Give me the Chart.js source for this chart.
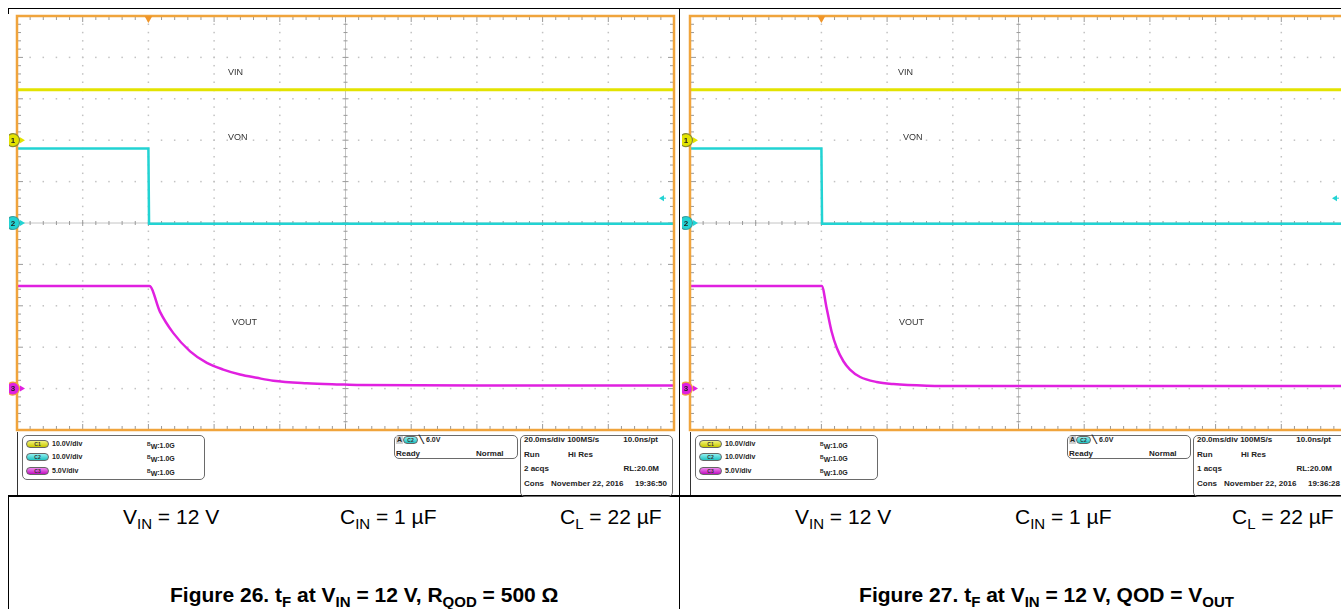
<!DOCTYPE html>
<html>
<head>
<meta charset="utf-8">
<script src="https://cdn.jsdelivr.net/npm/chart.js@4.4.1/dist/chart.umd.min.js"></script>
<style>
    html, body { margin: 0; padding: 0; background: #fff; }
    body { width: 1341px; height: 609px; overflow: hidden; position: relative;
           font-family: "Liberation Sans", Arial, sans-serif; color: #000; }
    .line { position: absolute; background: #000; }
    .shot { position: absolute; background: #fff; overflow: hidden; }
    .trace-label { position: absolute; font-size: 9px; color: #333; line-height: 9px; }
    .box { position: absolute; border: 1px solid #6a6a6a; border-radius: 5px; box-sizing: border-box; }
    .st { position: absolute; font-weight: bold; color: #222; white-space: nowrap; line-height: 8px; }
    .pill { position: absolute; height: 8px; border-radius: 4px; border: 1px solid #666; box-sizing: border-box;
            font-size: 5px; font-weight: bold; line-height: 6px; text-align: center; color: #333; }
    .cap { position: absolute; font-size: 21px; line-height: 21px; white-space: nowrap; }
    .cap sub { font-size: 15px; vertical-align: -5px; line-height: 0; }
    .fig { font-weight: bold; }
</style>
</head>
<body>
<script>
////////////////////////////////////////////////////////////////////////////////////////////
// DATA (time in ms from trigger, values in volts)
////////////////////////////////////////////////////////////////////////////////////////////

const timeRange = [-40, 160];            // 20 ms/div, trigger 2 div from left
const channelVoltsPerDiv = [10, 10, 5];  // C1, C2, C3
const channelOffsetDiv = [2, 0, -4];     // ground marker position, divisions
const triggerLevel = 6.0;                // C2 falling edge

const vinTime = [-40, 160];
const vinVolts26 = [12.2, 12.2];
const vinVolts27 = [12.2, 12.2];

const vonTime = [-40, 0, 0.2, 160];
const vonVolts = [18.0, 18.0, -0.2, -0.2];

const voutTime26 = [-40, 0.3, 3.5, 7.6, 12.7, 17.8, 22.8, 27.9, 33.0, 38.0, 48.2, 58.3, 64.4, 100, 160];
const voutVolts26 = [12.4, 12.4, 9.3, 6.7, 4.5, 3.1, 2.3, 1.7, 1.3, 0.95, 0.65, 0.5, 0.43, 0.37, 0.37];

const voutTime27 = [-40, 0.1, 1.6, 3.1, 4.7, 6.7, 8.7, 11.8, 16.8, 21.9, 32.1, 45.2, 100, 160];
const voutVolts27 = [12.4, 12.4, 9.7, 6.9, 4.9, 3.3, 2.3, 1.4, 0.8, 0.55, 0.35, 0.3, 0.3, 0.3];

const traceColors = ['#e3e300', '#22d3d3', '#e020e0'];

////////////////////////////////////////////////////////////////////////////////////////////
// Page frame (table lines + captions)
////////////////////////////////////////////////////////////////////////////////////////////

function el(cls, style, html) {
    const d = document.createElement('div');
    d.className = cls;
    Object.assign(d.style, style);
    if (html !== undefined) d.innerHTML = html;
    document.body.appendChild(d);
    return d;
}

el('line', {left: '8px', top: '8px', width: '1333px', height: '1px'});
el('line', {left: '8px', top: '8px', width: '1px', height: '601px'});
el('line', {left: '679px', top: '8px', width: '1px', height: '601px'});
el('line', {left: '8px', top: '495px', width: '1333px', height: '2px'});

el('cap', {left: '123px', top: '506px'}, 'V<sub>IN</sub> = 12 V');
el('cap', {left: '340px', top: '506px'}, 'C<sub>IN</sub> = 1 µF');
el('cap', {left: '560px', top: '506px'}, 'C<sub>L</sub> = 22 µF');
el('cap fig', {left: '170px', top: '584px'}, 'Figure 26. t<sub>F</sub> at V<sub>IN</sub> = 12 V, R<sub>QOD</sub> = 500 Ω');

el('cap', {left: '795px', top: '506px'}, 'V<sub>IN</sub> = 12 V');
el('cap', {left: '1015px', top: '506px'}, 'C<sub>IN</sub> = 1 µF');
el('cap', {left: '1232px', top: '506px'}, 'C<sub>L</sub> = 22 µF');
el('cap fig', {right: '107px', top: '584px'}, 'Figure 27. t<sub>F</sub> at V<sub>IN</sub> = 12 V, QOD = V<sub>OUT</sub>');

////////////////////////////////////////////////////////////////////////////////////////////
// Scope graticule plugin
////////////////////////////////////////////////////////////////////////////////////////////

const graticule = {
    id: 'graticule',
    beforeDatasetsDraw(chart) {
        const {ctx, chartArea: a, scales} = chart;
        const xs = scales.x, ds = scales.div;
        const xStep = (timeRange[1] - timeRange[0]) / 10;
        ctx.save();

        // dotted division lines
        ctx.fillStyle = '#c2c2c2';
        for (let i = 1; i < 10; i++) {
            if (i === 5) continue;
            const px = xs.getPixelForValue(timeRange[0] + i * xStep);
            for (let j = 1; j < 50; j++) {
                const py = ds.getPixelForValue(-5 + j * 0.2);
                ctx.fillRect(px - 0.75, py - 0.75, 1.5, 1.5);
            }
            const py = ds.getPixelForValue(-5 + i);
            for (let j = 1; j < 50; j++) {
                const qx = xs.getPixelForValue(timeRange[0] + j * xStep / 5);
                ctx.fillRect(qx - 0.75, py - 0.75, 1.5, 1.5);
            }
        }

        // centre cross with minor ticks
        const cx = xs.getPixelForValue(timeRange[0] + 5 * xStep);
        const cy = ds.getPixelForValue(0);
        ctx.strokeStyle = '#c4c4c4';
        ctx.lineWidth = 1;
        ctx.beginPath();
        ctx.moveTo(cx, a.top); ctx.lineTo(cx, a.bottom);
        ctx.moveTo(a.left, cy); ctx.lineTo(a.right, cy);
        ctx.stroke();

        ctx.strokeStyle = '#9a9a9a';
        ctx.beginPath();
        for (let j = 1; j < 50; j++) {
            const py = ds.getPixelForValue(-5 + j * 0.2);
            const len = (j % 5 === 0) ? 6 : 4;
            ctx.moveTo(cx - len / 2, py); ctx.lineTo(cx + len / 2, py);
            ctx.moveTo(a.left, py); ctx.lineTo(a.left + len, py);
            ctx.moveTo(a.right, py); ctx.lineTo(a.right - len, py);
            const qx = xs.getPixelForValue(timeRange[0] + j * xStep / 5);
            ctx.moveTo(qx, cy - len / 2); ctx.lineTo(qx, cy + len / 2);
            ctx.moveTo(qx, a.top); ctx.lineTo(qx, a.top + len);
            ctx.moveTo(qx, a.bottom); ctx.lineTo(qx, a.bottom - len);
        }
        ctx.stroke();
        ctx.restore();
    },
    afterDatasetsDraw(chart) {
        const {ctx, chartArea: a, scales} = chart;
        ctx.save();

        // orange frame
        ctx.strokeStyle = '#f0a43c';
        ctx.lineWidth = 2.5;
        ctx.strokeRect(a.left, a.top, a.right - a.left, a.bottom - a.top);

        // trigger position marker
        const tx = scales.x.getPixelForValue(0);
        ctx.fillStyle = '#f0962a';
        ctx.beginPath();
        ctx.moveTo(tx - 4, a.top); ctx.lineTo(tx + 4, a.top); ctx.lineTo(tx, a.top + 7);
        ctx.closePath(); ctx.fill();

        // trigger level arrow (C2)
        const ly = scales.ch2.getPixelForValue(triggerLevel);
        ctx.fillStyle = traceColors[1];
        ctx.beginPath();
        ctx.moveTo(a.right - 15, ly); ctx.lineTo(a.right - 10, ly - 3); ctx.lineTo(a.right - 10, ly + 3);
        ctx.closePath(); ctx.fill();
        ctx.fillRect(a.right - 11, ly - 0.5, 3, 1);

        // channel ground markers
        const rings = ['#8a8a30', '#3aa0a0', '#f0a43c'];
        ['ch1', 'ch2', 'ch3'].forEach((id, k) => {
            const my = scales[id].getPixelForValue(0);
            const mx = a.left - 4;
            ctx.fillStyle = traceColors[k];
            ctx.strokeStyle = rings[k];
            ctx.lineWidth = 1.2;
            ctx.beginPath();
            ctx.arc(mx, my, 6.5, 0, Math.PI * 2);
            ctx.fill(); ctx.stroke();
            ctx.fillStyle = '#222';
            ctx.font = 'bold 8px "Liberation Sans", Arial';
            ctx.textAlign = 'center';
            ctx.textBaseline = 'middle';
            ctx.fillText(String(k + 1), mx, my + 0.5);
            ctx.fillStyle = traceColors[k];
            ctx.beginPath();
            ctx.moveTo(a.left + 3, my - 3); ctx.lineTo(a.left + 8, my); ctx.lineTo(a.left + 3, my + 3);
            ctx.closePath(); ctx.fill();
        });
        ctx.restore();
    }
};

////////////////////////////////////////////////////////////////////////////////////////////
// Scope panels
////////////////////////////////////////////////////////////////////////////////////////////

function points(t, v) {
    return t.map((x, i) => ({x: x, y: v[i]}));
}

function channelScale(k) {
    const vd = channelVoltsPerDiv[k], off = channelOffsetDiv[k];
    return {type: 'linear', axis: 'y', display: false, min: (-5 - off) * vd, max: (5 - off) * vd};
}

/**
 * Function: makeScope
 * Purpose:
 *      Build one screenshot panel: chart canvas, trace labels and status bar
 * @param: dx - horizontal offset of the panel, vin/vout series, acquisition info
 */
function makeScope(dx, vinVolts, voutTime, voutVolts, acqs, clock) {
    const shot = el('shot', {left: (8 + dx) + 'px', top: '14px', width: (670) + 'px', height: '481px'});

    const canvas = document.createElement('canvas');
    canvas.width = 669; canvas.height = 423;
    canvas.style.position = 'absolute';
    canvas.style.left = '1px'; canvas.style.top = '-5px';
    shot.appendChild(canvas);

    new Chart(canvas.getContext('2d'), {
        type: 'line',
        data: {
            datasets: [
                {data: points(vinTime, vinVolts), yAxisID: 'ch1', borderColor: traceColors[0], borderWidth: 3},
                {data: points(vonTime, vonVolts), yAxisID: 'ch2', borderColor: traceColors[1], borderWidth: 2.5},
                {data: points(voutTime, voutVolts), yAxisID: 'ch3', borderColor: traceColors[2], borderWidth: 2.5,
                 cubicInterpolationMode: 'monotone'}
            ]
        },
        options: {
            responsive: false,
            animation: false,
            events: [],
            layout: {padding: {left: 8, top: 7, right: 4, bottom: 2}},
            elements: {point: {radius: 0}, line: {tension: 0}},
            plugins: {legend: {display: false}, tooltip: {enabled: false}},
            scales: {
                x: {type: 'linear', axis: 'x', display: false, min: timeRange[0], max: timeRange[1]},
                ch1: channelScale(0),
                ch2: channelScale(1),
                ch3: channelScale(2),
                div: {type: 'linear', axis: 'y', display: false, min: -5, max: 5}
            }
        },
        plugins: [graticule]
    });

    // trace labels (page coords)
    const lbl = (x, y, t) => el('trace-label', {left: (x + dx) + 'px', top: (y - 4.5) + 'px'}, t);
    if (dx === 0) {
        lbl(228, 72, 'VIN'); lbl(228, 137, 'VON'); lbl(232, 322, 'VOUT');
    } else {
        lbl(898 - dx, 72, 'VIN'); lbl(903 - dx, 137, 'VON'); lbl(899 - dx, 322, 'VOUT');
    }

    // status bar divider
    el('line', {left: (17 + dx) + 'px', top: '432px', width: '1px', height: '63px', background: '#333'});

    // channel box
    el('box', {left: (22 + dx) + 'px', top: '435px', width: '183px', height: '45px'});
    const rows = [443.5, 457, 471];
    const scaleText = ['10.0V/div', '10.0V/div', '5.0V/div'];
    const pillBg = ['linear-gradient(#f2f27a,#c9c900)', 'linear-gradient(#8ff0f0,#1fc2c2)', 'linear-gradient(#f08af0,#c010c0)'];
    rows.forEach((ry, k) => {
        el('pill', {left: (26 + dx) + 'px', top: (ry - 4) + 'px', width: '23px', background: pillBg[k]}, 'C' + (k + 1));
        el('st', {left: (52 + dx) + 'px', top: (ry - 4) + 'px', fontSize: '7px'}, scaleText[k]);
        el('st', {left: (147 + dx) + 'px', top: (ry - 4) + 'px', fontSize: '7px'},
           '<span style="font-size:5px;vertical-align:2px">B</span><span style="vertical-align:-1px">W</span>:1.0G');
    });

    // trigger box
    el('box', {left: (394 + dx) + 'px', top: '435px', width: '124px', height: '24px'});
    el('st', {left: (396 + dx) + 'px', top: '436px', fontSize: '7px', background: '#d0d0d0', padding: '0 1px'}, 'A');
    el('pill', {left: (403 + dx) + 'px', top: '436px', width: '15px', background: 'linear-gradient(#8ff0f0,#1fc2c2)'}, 'C2');
    el('st', {left: (419 + dx) + 'px', top: '436px', fontSize: '8px'}, '╲');
    el('st', {left: (426 + dx) + 'px', top: '436px', fontSize: '7px'}, '6.0V');
    el('st', {left: (396 + dx) + 'px', top: '450px', fontSize: '8px'}, 'Ready');
    el('st', {left: (476 + dx) + 'px', top: '450px', fontSize: '8px'}, 'Normal');

    // timebase box
    el('box', {left: (520 + dx) + 'px', top: '435px', width: '153px', height: '62px'});
    const tb = (x, y, t, right) => el('st', right
        ? {left: (x + dx) + 'px', top: (y - 4) + 'px', fontSize: '8px', transform: 'translateX(-100%)'}
        : {left: (x + dx) + 'px', top: (y - 4) + 'px', fontSize: '8px'}, t);
    tb(524, 440, '20.0ms/div 100MS/s');
    tb(658, 440, '10.0ns/pt', true);
    tb(524, 455, 'Run');
    tb(568, 455, 'Hi Res');
    tb(524, 469, acqs);
    tb(659, 469, 'RL:20.0M', true);
    tb(524, 484, 'Cons');
    tb(551, 484, 'November 22, 2016');
    tb(667, 484, clock, true);
}

makeScope(0, vinVolts26, voutTime26, voutVolts26, '2 acqs', '19:36:50');
makeScope(673, vinVolts27, voutTime27, voutVolts27, '1 acqs', '19:36:28');
</script>
</body>
</html>
